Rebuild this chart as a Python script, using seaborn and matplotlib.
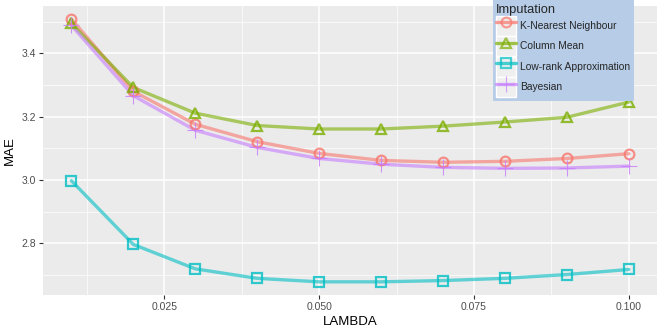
import numpy as np
import pandas as pd
import seaborn as sns
import matplotlib
matplotlib.use("Agg")
import matplotlib.pyplot as plt
from matplotlib.legend_handler import HandlerLine2D
from matplotlib.patches import Rectangle
from matplotlib.lines import Line2D

lambdas = [0.01, 0.02, 0.03, 0.04, 0.05, 0.06, 0.07, 0.08, 0.09, 0.10]
knn = [3.508, 3.280, 3.176, 3.121, 3.084, 3.062, 3.056, 3.059, 3.068, 3.083]
col_mean = [3.494, 3.292, 3.211, 3.172, 3.161, 3.161, 3.170, 3.183, 3.198, 3.246]
low_rank = [2.998, 2.797, 2.720, 2.690, 2.679, 2.679, 2.683, 2.690, 2.702, 2.718]
bayesian = [3.488, 3.266, 3.157, 3.103, 3.068, 3.050, 3.040, 3.037, 3.038, 3.044]
methods = ["K-Nearest Neighbour", "Column Mean", "Low-rank Approximation", "Bayesian"]
colors = ["#F8766D", "#7CAE00", "#00BFC4", "#C77CFF"]
markers = ["o", "^", "s", "+"]

df = pd.DataFrame({
    "LAMBDA": lambdas * 4,
    "MAE": knn + col_mean + low_rank + bayesian,
    "Imputation": sum([[m] * len(lambdas) for m in methods], []),
})

sns.set_theme(style="darkgrid")
plt.rcParams["font.family"] = ["Liberation Sans", "DejaVu Sans"]

fig = plt.figure(figsize=(6.64, 3.32), dpi=100)
ax = fig.add_axes([0.065, 0.111, 0.924, 0.871])
ax.set_facecolor("#EBEBEB")

pal = dict(zip(methods, colors))

sns.lineplot(data=df, x="LAMBDA", y="MAE", hue="Imputation", hue_order=methods,
             palette=pal, linewidth=2.4, alpha=0.6, legend=False, ax=ax)
for m, c, s in zip(methods, colors, markers):
    sub = df[df["Imputation"] == m]
    if s == "+":
        sns.lineplot(data=sub, x="LAMBDA", y="MAE", color=c, linestyle="",
                     marker=s, markersize=11, markeredgecolor=c,
                     markeredgewidth=0.8, alpha=0.8, ax=ax)
    else:
        sns.lineplot(data=sub, x="LAMBDA", y="MAE", color=c, linestyle="",
                     marker=s, markersize=7, markerfacecolor="none",
                     markeredgecolor=c, markeredgewidth=1.6, alpha=0.8, ax=ax)

ax.set_xlim(0.00545, 0.1045)
ax.set_ylim(2.637, 3.549)
ax.set_xticks([0.025, 0.050, 0.075, 0.100])
ax.set_xticklabels(["0.025", "0.050", "0.075", "0.100"])
ax.set_yticks([2.8, 3.0, 3.2, 3.4])
ax.set_yticklabels(["2.8", "3.0", "3.2", "3.4"])
ax.set_xticks([0.0125, 0.0375, 0.0625, 0.0875], minor=True)
ax.set_yticks([2.7, 2.9, 3.1, 3.3, 3.5], minor=True)
ax.grid(which="major", color="white", linewidth=1.1)
ax.grid(which="minor", color="white", linewidth=0.5)
ax.tick_params(which="major", length=3, width=0.8, color="#333333", labelsize=7.5,
               labelcolor="#4D4D4D", pad=2, left=True, bottom=True)
ax.tick_params(which="minor", length=0)
for sp in ax.spines.values():
    sp.set_visible(False)
ax.set_xlabel("LAMBDA", fontsize=9.5, color="black", labelpad=3)
ax.set_ylabel("MAE", fontsize=9.5, color="black", labelpad=4)


class KeyHandler(HandlerLine2D):
    def create_artists(self, legend, orig_handle, xdescent, ydescent, width,
                       height, fontsize, trans):
        bg = Rectangle((-xdescent, -ydescent), width, height,
                       facecolor="#EFEFEF", edgecolor="white", linewidth=1.0,
                       transform=trans, zorder=0)
        arts = super().create_artists(legend, orig_handle, xdescent, ydescent,
                                      width, height, fontsize, trans)
        return [bg] + arts


handles = []
for m, c, s in zip(methods, colors, markers):
    if s == "+":
        handles.append(Line2D([0], [0], color=c, lw=2.4, alpha=0.7, marker=s,
                              markersize=12, markeredgecolor=c,
                              markeredgewidth=0.8))
    else:
        handles.append(Line2D([0], [0], color=c, lw=2.4, alpha=0.7, marker=s,
                              markersize=7, markerfacecolor="none",
                              markeredgecolor=c, markeredgewidth=1.6))

leg = fig.legend(handles, methods, title="Imputation", loc="upper left",
                 bbox_to_anchor=(0.742, 1.0), bbox_transform=fig.transFigure,
                 frameon=True, fancybox=False, fontsize=7.4, title_fontsize=9.3,
                 handlelength=1.95, handleheight=2.65, handletextpad=0.4,
                 labelspacing=0.02, borderpad=0.35, borderaxespad=0,
                 handler_map={Line2D: KeyHandler(numpoints=1)})
leg._legend_box.align = "left"
fr = leg.get_frame()
fr.set_facecolor("#B6CCE7")
fr.set_edgecolor("#B6CCE7")
fr.set_alpha(1)
fr.set_linewidth(0)

fig.savefig("out.png", dpi=100)
